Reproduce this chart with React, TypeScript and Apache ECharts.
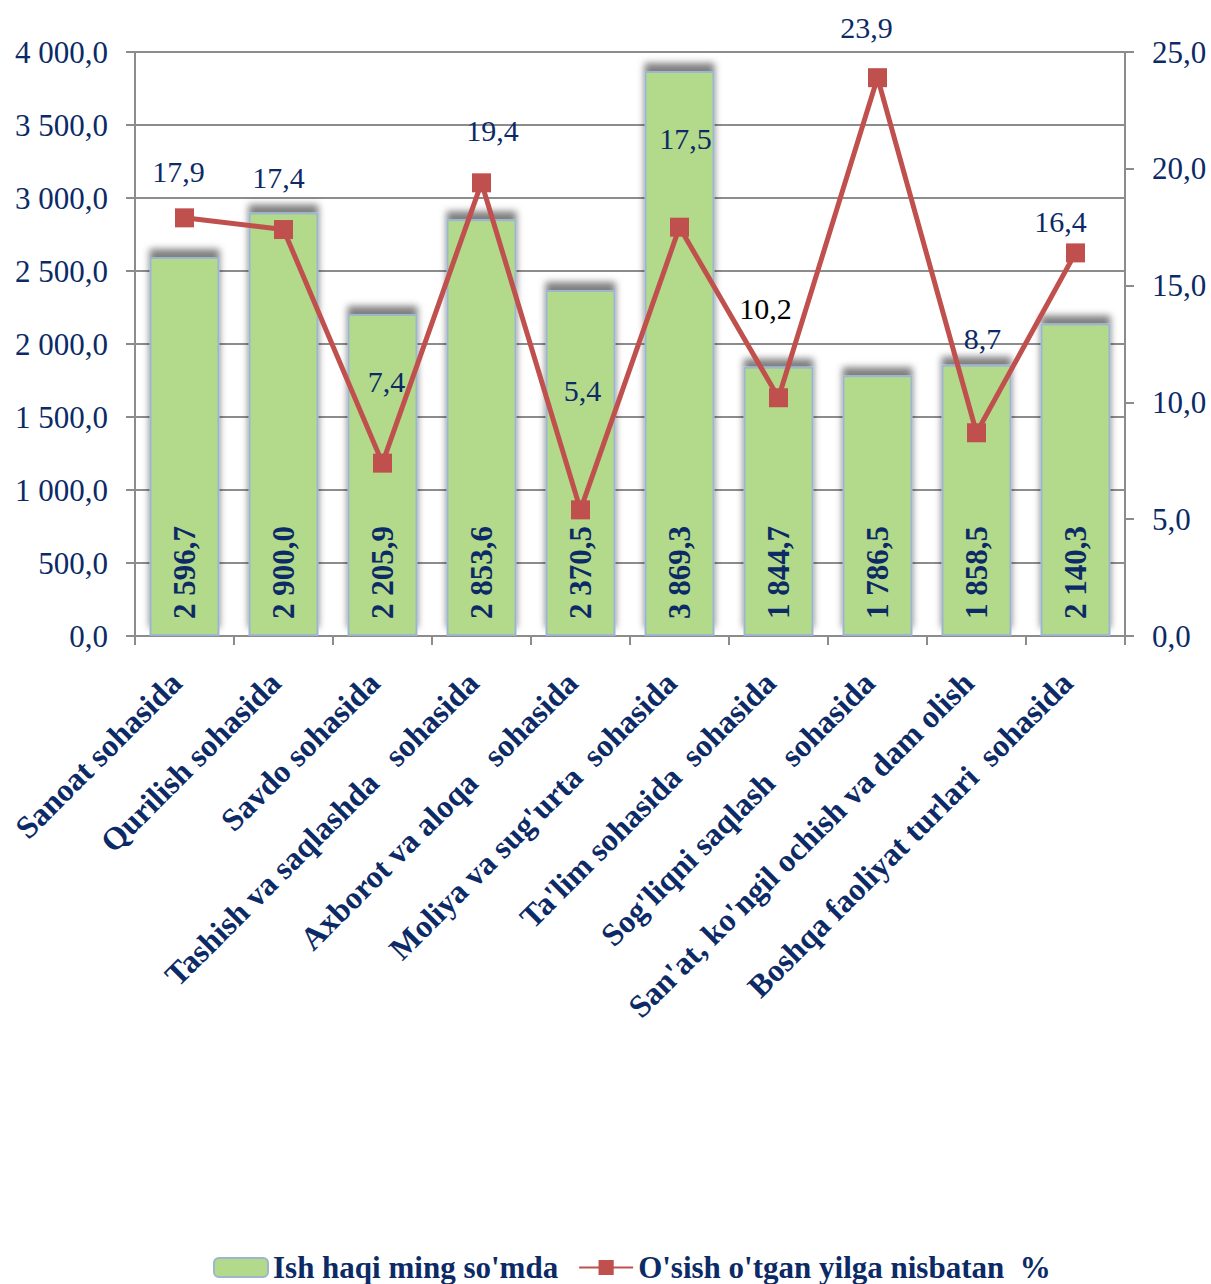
import React, { useEffect, useRef } from "react";
import * as echarts from "echarts";

const categories = [
  "Sanoat sohasida",
  "Qurilish sohasida",
  "Savdo sohasida",
  "Tashish va saqlashda   sohasida",
  "Axborot va aloqa   sohasida",
  "Moliya va sug'urta  sohasida",
  "Ta'lim sohasida  sohasida",
  "Sog'liqni saqlash   sohasida",
  "San'at, ko'ngil ochish va dam olish",
  "Boshqa faoliyat turlari  sohasida",
];
const wages = [2596.7, 2900.0, 2205.9, 2853.6, 2370.5, 3869.3, 1844.7, 1786.5, 1858.5, 2140.3];
const growth = [17.9, 17.4, 7.4, 19.4, 5.4, 17.5, 10.2, 23.9, 8.7, 16.4];
const seriesNames = ["Ish haqi ming so'mda", "O'sish o'tgan yilga nisbatan  %"];

// manual label placements for the line labels (relative to each point)
const lineLabelOffsets: [number, number][] = [
  [-6, -46], [-5, -52], [4, -82], [11, -52], [2, -119],
  [6, -89], [-13, -89], [-11, -50], [6, -94], [-15, -31],
];

const NAVY = "#0b2a66";
const FONT = "'Liberation Serif', 'Times New Roman', serif";
const GRID = "#8c8c8c";

function fmt(v: number): string {
  const [i, d] = v.toFixed(1).split(".");
  return i.replace(/\B(?=(\d{3})+(?!\d))/g, " ") + "," + d;
}

export default function App() {
  const ref = useRef<HTMLDivElement>(null);
  useEffect(() => {
    document.body.style.margin = "0";
    const chart = echarts.init(ref.current!, null, { renderer: "svg" });
    chart.setOption({
      animation: false,
      backgroundColor: "#ffffff",
      textStyle: { fontFamily: FONT },
      grid: { left: 135, right: 86, top: 52, bottom: 648, containLabel: false },
      legend: {
        left: 208,
        top: 1247,
        itemWidth: 54,
        itemHeight: 19,
        itemGap: 20,
        data: seriesNames,
        textStyle: { fontFamily: FONT, fontSize: 31, fontWeight: "bold", color: NAVY },
      },
      xAxis: {
        type: "category",
        data: categories,
        boundaryGap: true,
        axisLine: { show: true, lineStyle: { color: GRID, width: 2 } },
        axisTick: { show: true, length: 9, lineStyle: { color: GRID, width: 2 } },
        axisLabel: {
          interval: 0,
          rotate: 45,
          margin: 33,
          padding: [0, 12, 0, 0],
          fontFamily: FONT,
          fontSize: 32,
          fontWeight: "bold",
          color: NAVY,
        },
      },
      yAxis: [
        {
          type: "value",
          min: 0,
          max: 4000,
          interval: 500,
          axisLine: { show: true, lineStyle: { color: GRID, width: 2 } },
          axisTick: { show: true, length: 9, lineStyle: { color: GRID, width: 2 } },
          splitLine: { show: true, lineStyle: { color: GRID, width: 2 } },
          axisLabel: {
            margin: 27,
            fontFamily: FONT,
            fontSize: 31,
            color: NAVY,
            formatter: (v: number) => fmt(v),
          },
        },
        {
          type: "value",
          min: 0,
          max: 25,
          interval: 5,
          position: "right",
          axisLine: { show: true, lineStyle: { color: GRID, width: 2 } },
          axisTick: { show: true, length: 9, lineStyle: { color: GRID, width: 2 } },
          splitLine: { show: false },
          axisLabel: {
            margin: 27,
            fontFamily: FONT,
            fontSize: 31,
            color: NAVY,
            formatter: (v: number) => fmt(v),
          },
        },
      ],
      series: [
        {
          name: seriesNames[0],
          type: "bar",
          yAxisIndex: 0,
          barWidth: 70,
          data: wages,
          itemStyle: {
            color: "#b3d98b",
            borderColor: "#9db6d0",
            borderWidth: 2,
            shadowColor: "rgba(0,0,0,0.5)",
            shadowBlur: 7,
            shadowOffsetY: -8,
          },
          label: {
            show: true,
            position: "insideBottom",
            rotate: 90,
            align: "left",
            verticalAlign: "middle",
            distance: 17,
            fontFamily: FONT,
            fontSize: 31,
            fontWeight: "bold",
            color: NAVY,
            formatter: (p: any) => fmt(p.value),
          },
          z: 2,
        },
        {
          name: seriesNames[1],
          type: "line",
          yAxisIndex: 1,
          symbol: "rect",
          symbolSize: 19,
          color: "#c0504d",
          lineStyle: { color: "#c0504d", width: 5 },
          itemStyle: { color: "#c0504d" },
          data: growth.map((v, i) => ({
            value: v,
            label: { offset: lineLabelOffsets[i], color: i === 6 ? "#000000" : NAVY },
          })),
          label: {
            show: true,
            position: "inside",
            fontFamily: FONT,
            fontSize: 30,
            color: NAVY,
            formatter: (p: any) => fmt(p.value),
          },
          z: 5,
        },
      ],
    });
    return () => chart.dispose();
  }, []);
  return <div ref={ref} style={{ width: 1211, height: 1284 }} />;
}
